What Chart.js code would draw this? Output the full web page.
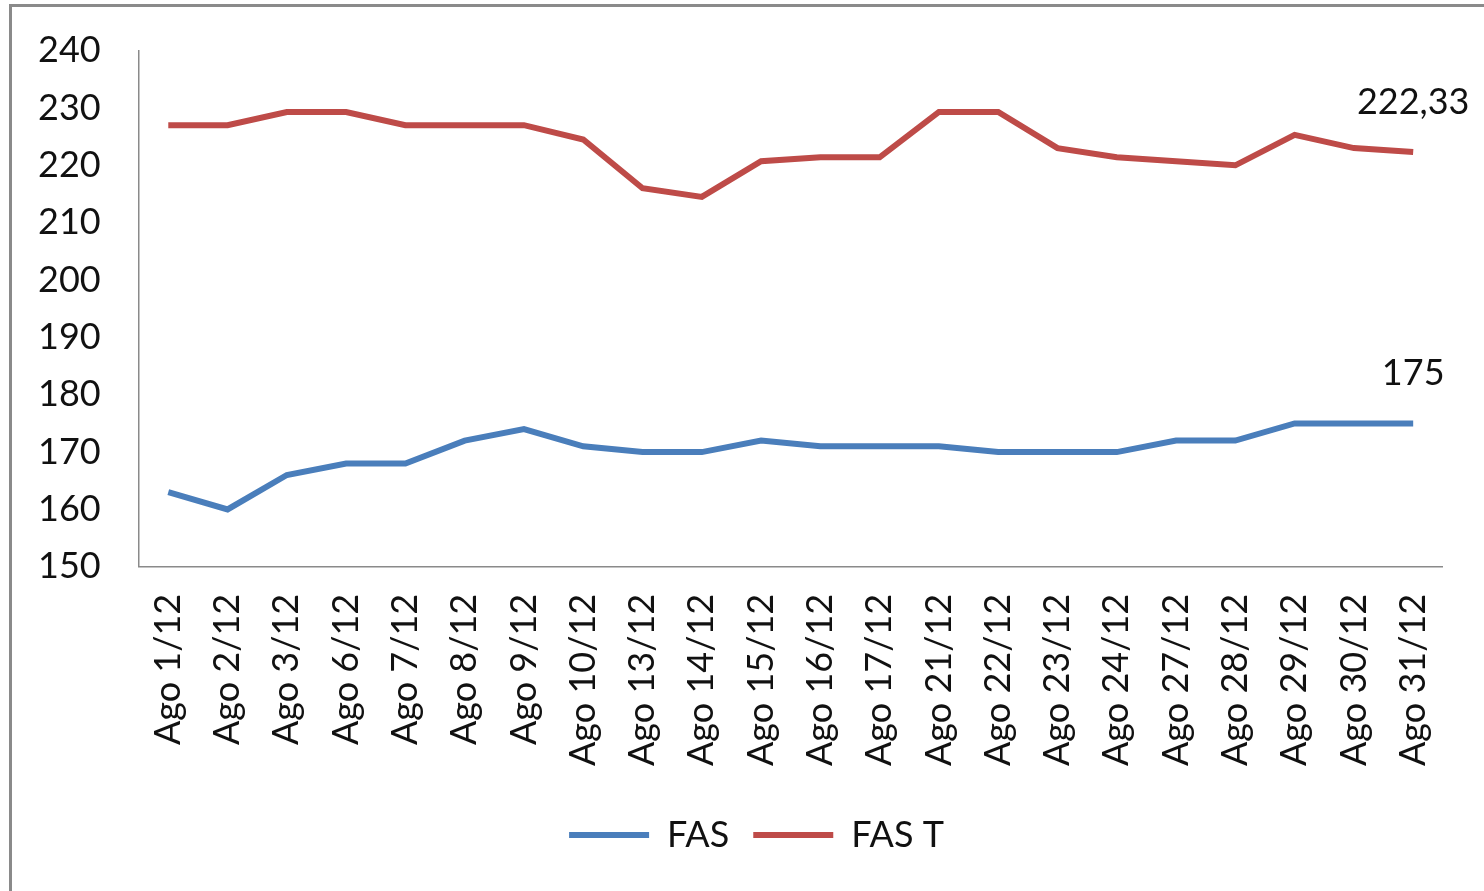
<!DOCTYPE html>
<html>
<head>
<meta charset="utf-8">
<script src="https://cdn.jsdelivr.net/npm/chart.js@4"></script>
<style>
  body { margin: 0; background: #fff; overflow: hidden; }
  #box {
    position: absolute; left: 9px; top: 4px;
    width: 1490px; height: 900px;
    border: 3px solid #8a8a8a; box-sizing: border-box;
  }
  #wrap { position: absolute; left: -26px; top: -16px; width: 1498px; height: 888px; }
</style>
</head>
<body>
<div id="box"><div id="wrap"><canvas id="myChart"></canvas></div></div>
<script>
// categories (trading days in August 2012)
const days = ['Ago 1/12', 'Ago 2/12', 'Ago 3/12', 'Ago 6/12', 'Ago 7/12', 'Ago 8/12', 'Ago 9/12',
  'Ago 10/12', 'Ago 13/12', 'Ago 14/12', 'Ago 15/12', 'Ago 16/12', 'Ago 17/12', 'Ago 21/12',
  'Ago 22/12', 'Ago 23/12', 'Ago 24/12', 'Ago 27/12', 'Ago 28/12', 'Ago 29/12', 'Ago 30/12', 'Ago 31/12'];

// series values
const fas = [163, 160, 166, 168, 168, 172, 174, 171, 170, 170, 172, 171, 171, 171, 170, 170, 170, 172, 172, 175, 175, 175];
const fasT = [227, 227, 229.3, 229.3, 227, 227, 227, 224.5, 216, 214.5, 220.7, 221.4, 221.4, 229.3, 229.3, 223, 221.4, 220.7, 220, 225.3, 223, 222.33];

// labels shown at the last point of each series
const endLabels = ['175', '222,33'];

const FONT = 'Lato';
const SIZE = 36;

// draw the last value above the end of each line
const endLabelPlugin = {
  id: 'endLabels',
  afterDatasetsDraw(chart) {
    const ctx = chart.ctx;
    ctx.save();
    ctx.font = SIZE + 'px ' + FONT;
    ctx.fillStyle = '#111';
    ctx.textBaseline = 'bottom';
    chart.data.datasets.forEach((ds, i) => {
      const meta = chart.getDatasetMeta(i);
      const pt = meta.data[meta.data.length - 1];
      const txt = endLabels[i];
      const w = ctx.measureText(txt).width;
      let x = pt.x - w / 2;
      if (x + w > chart.width - 4) x = chart.width - 4 - w;
      ctx.fillText(txt, x, pt.y - 32);
    });
    ctx.restore();
  }
};

// the legend sits a bit right of the canvas centre in the original
const legendShift = {
  id: 'legendShift',
  afterLayout(chart) {
    chart.legend.left += 28;
    chart.legend.right += 28;
  }
};

const ctx = document.getElementById('myChart').getContext('2d');
const myChart = new Chart(ctx, {
  type: 'line',
  data: {
    labels: days,
    datasets: [
      { label: 'FAS', data: fas, borderColor: '#4a7ebb', backgroundColor: '#4a7ebb', borderWidth: 6, pointRadius: 0, tension: 0 },
      { label: 'FAS T', data: fasT, borderColor: '#be4b48', backgroundColor: '#be4b48', borderWidth: 6, pointRadius: 0, tension: 0 }
    ]
  },
  options: {
    responsive: true,
    maintainAspectRatio: false,
    animation: false,
    layout: { padding: { left: 14, right: 27, top: 6, bottom: 16 } },
    plugins: {
      legend: {
        position: 'bottom',
        labels: {
          font: { family: FONT, size: SIZE },
          color: '#111',
          boxWidth: 80,
          boxHeight: 6,
          padding: 24,
          generateLabels(chart) {
            return Chart.defaults.plugins.legend.labels.generateLabels(chart).map(l => ({ ...l, lineWidth: 0 }));
          }
        }
      },
      tooltip: { enabled: false }
    },
    scales: {
      x: {
        offset: true,
        grid: { display: false, drawTicks: false },
        border: { color: '#8a8a8a', width: 1.5 },
        ticks: { font: { family: FONT, size: SIZE }, color: '#111', maxRotation: 90, minRotation: 90, padding: 27, autoSkip: false }
      },
      y: {
        min: 150,
        max: 240,
        grid: { display: false, drawTicks: false },
        border: { color: '#8a8a8a', width: 1.5 },
        ticks: { stepSize: 10, font: { family: FONT, size: SIZE }, color: '#111', padding: 38 }
      }
    }
  },
  plugins: [endLabelPlugin, legendShift]
});
</script>
</body>
</html>
